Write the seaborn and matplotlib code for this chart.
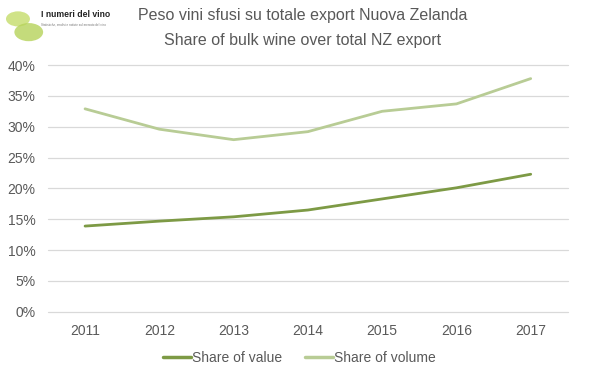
import matplotlib
matplotlib.use("Agg")
import matplotlib.pyplot as plt
import matplotlib.patches as mpatches
import matplotlib.ticker as mticker
import pandas as pd
import seaborn as sns

# ---------------------------------------------------------------------------
# Daten
# ---------------------------------------------------------------------------
years = ["2011", "2012", "2013", "2014", "2015", "2016", "2017"]
share_value = [13.9, 14.7, 15.4, 16.5, 18.3, 20.1, 22.3]
share_volume = [32.9, 29.6, 27.9, 29.2, 32.5, 33.7, 37.8]

series_names = ["Share of value", "Share of volume"]
title_lines = ["Peso vini sfusi su totale export Nuova Zelanda",
               "Share of bulk wine over total NZ export"]

VALUE_COLOR = "#7d9a45"
VOLUME_COLOR = "#b8cc95"
TEXT_COLOR = "#595959"
GRID_COLOR = "#d9d9d9"

df = pd.DataFrame({"year": years * 2,
                   "share": share_value + share_volume,
                   "series": [series_names[0]] * len(years) + [series_names[1]] * len(years)})

sns.set_theme(style="white")
plt.rcParams["font.family"] = ["Liberation Sans", "DejaVu Sans"]

fig = plt.figure(figsize=(5.99, 3.78), dpi=100)
ax = fig.add_axes([0.080, 0.175, 0.868, 0.653])

sns.lineplot(data=df, x="year", y="share", hue="series",
             palette={series_names[0]: VALUE_COLOR, series_names[1]: VOLUME_COLOR},
             linewidth=2.0, ax=ax, legend=False, sort=False)

ax.set_xlim(-0.5, len(years) - 0.5)
ax.set_ylim(0, 40)
ax.yaxis.set_major_locator(mticker.MultipleLocator(5))
ax.yaxis.set_major_formatter(mticker.FuncFormatter(lambda v, _: f"{v:.0f}%"))
ax.grid(axis="y", color=GRID_COLOR, linewidth=0.9)
for gl in ax.get_ygridlines():
    gl.set_clip_on(False)
ax.set_axisbelow(True)
for s in ax.spines.values():
    s.set_visible(False)
ax.tick_params(axis="both", length=0, colors=TEXT_COLOR, labelsize=10)
ax.tick_params(axis="x", pad=9)
ax.tick_params(axis="y", pad=9)
ax.set_xlabel("")
ax.set_ylabel("")

# Titel
fig.text(0.505, 0.960, title_lines[0], ha="center", va="center",
         fontsize=11.5, color=TEXT_COLOR)
fig.text(0.505, 0.893, title_lines[1], ha="center", va="center",
         fontsize=11.5, color=TEXT_COLOR)

# Logo (vereinfacht)
fig.patches.append(mpatches.Circle((0.030, 0.950), 0.020, transform=fig.transFigure,
                                   facecolor="#c5dc6a", edgecolor="none", alpha=0.8))
fig.patches.append(mpatches.Circle((0.048, 0.915), 0.024, transform=fig.transFigure,
                                   facecolor="#b6d35a", edgecolor="none", alpha=0.8))
fig.text(0.069, 0.962, "I numeri del vino", ha="left", va="center",
         fontsize=6.2, color="#222222", fontweight="bold")
fig.text(0.069, 0.935, "Statistiche, analisi e notizie sul mercato del vino", ha="left",
         va="center", fontsize=2.2, color="#777777")

# Legende
handles = [plt.Line2D([], [], color=VALUE_COLOR, linewidth=2.5),
           plt.Line2D([], [], color=VOLUME_COLOR, linewidth=2.5)]
fig.legend(handles, series_names, loc="center", bbox_to_anchor=(0.5, 0.052),
           ncol=2, frameon=False, fontsize=10, handlelength=2.0,
           handletextpad=0.1, columnspacing=1.6, labelcolor=TEXT_COLOR)

fig.savefig("out.png", dpi=100)
